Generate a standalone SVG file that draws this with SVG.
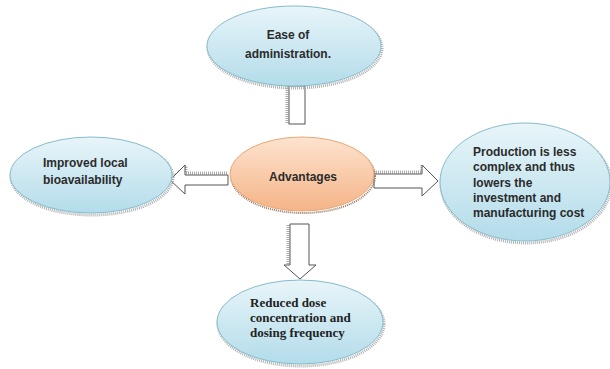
<svg xmlns="http://www.w3.org/2000/svg" width="610" height="369" viewBox="0 0 610 369">
<defs>
<linearGradient id="blue" x1="0" y1="0" x2="0" y2="1">
<stop offset="0" stop-color="#e8f5f9"/>
<stop offset="1" stop-color="#b3dcea"/>
</linearGradient>
<linearGradient id="orange" x1="0" y1="0" x2="0" y2="1">
<stop offset="0" stop-color="#fde3cf"/>
<stop offset="1" stop-color="#f5b487"/>
</linearGradient>
</defs>
<style>
.bl{fill:url(#blue);stroke:#86bccd;stroke-width:1}
.sh{fill:none;stroke:#b0b0b0;stroke-width:3;stroke-dasharray:1 1}
.ar{fill:#fff;stroke:#555;stroke-width:1}
.as{fill:none;stroke:#aaa;stroke-width:3;stroke-dasharray:1 1}
.t{font-family:"Liberation Sans",Arial,sans-serif;font-weight:bold;font-size:12px;fill:#2b2b2b}
.s{font-family:"Liberation Serif","Times New Roman",serif;font-weight:bold;font-size:13px;fill:#222}
</style>
<rect width="610" height="369" fill="#fff"/>
<g id="connectors">
<path class="as" d="M287,86 V123"/>
<rect class="ar" x="289" y="86" width="16" height="38"/>
<path class="as" d="M186,173 H228 M186,172 L186,166 L171,179"/>
<path class="ar" d="M228,175 H185 V165 L170,180 L185,194 V185 H228 Z"/>
<path class="as" d="M374,172 H422 V164"/>
<path class="ar" d="M374,174 H422 V165 L438,181 L422,196 V188 H374 Z"/>
<path class="as" d="M288,225 V264"/>
<path class="ar" d="M290,224 H309 V265 H316 L300,279 L284,265 H290 Z"/>
</g>
<g id="node-top">
<ellipse class="sh" cx="295" cy="48" rx="87" ry="40"/>
<ellipse class="bl" cx="294" cy="46" rx="87" ry="40"/>
<text class="t" x="288" y="39" text-anchor="middle">Ease of</text>
<text class="t" x="288" y="58" text-anchor="middle">administration.</text>
</g>
<g id="node-left">
<ellipse class="sh" cx="92" cy="177" rx="81" ry="38"/>
<ellipse class="bl" cx="91" cy="175" rx="81" ry="38"/>
<text class="t" x="43" y="167">Improved local</text>
<text class="t" x="43" y="184">bioavailability</text>
</g>
<g id="node-center">
<ellipse cx="303" cy="176" rx="72" ry="37" fill="none" stroke="#9a7a66" stroke-width="2" stroke-dasharray="1 1"/>
<ellipse cx="302" cy="174" rx="72" ry="37" fill="url(#orange)" stroke="#e8a878" stroke-width="1"/>
<text class="t" x="303" y="181" text-anchor="middle">Advantages</text>
</g>
<g id="node-right">
<ellipse class="sh" cx="526" cy="184" rx="85" ry="59"/>
<ellipse class="bl" cx="525" cy="182" rx="85" ry="59"/>
<text class="t" x="473" y="156">Production is less</text>
<text class="t" x="473" y="171">complex and thus</text>
<text class="t" x="473" y="187">lowers the</text>
<text class="t" x="473" y="202">investment and</text>
<text class="t" x="473" y="217">manufacturing cost</text>
</g>
<g id="node-bottom">
<ellipse class="sh" cx="301" cy="324" rx="83" ry="42"/>
<ellipse class="bl" cx="300" cy="322" rx="83" ry="42"/>
<text class="s" x="250" y="307">Reduced dose</text>
<text class="s" x="250" y="322">concentration and</text>
<text class="s" x="250" y="337">dosing frequency</text>
</g>
</svg>
